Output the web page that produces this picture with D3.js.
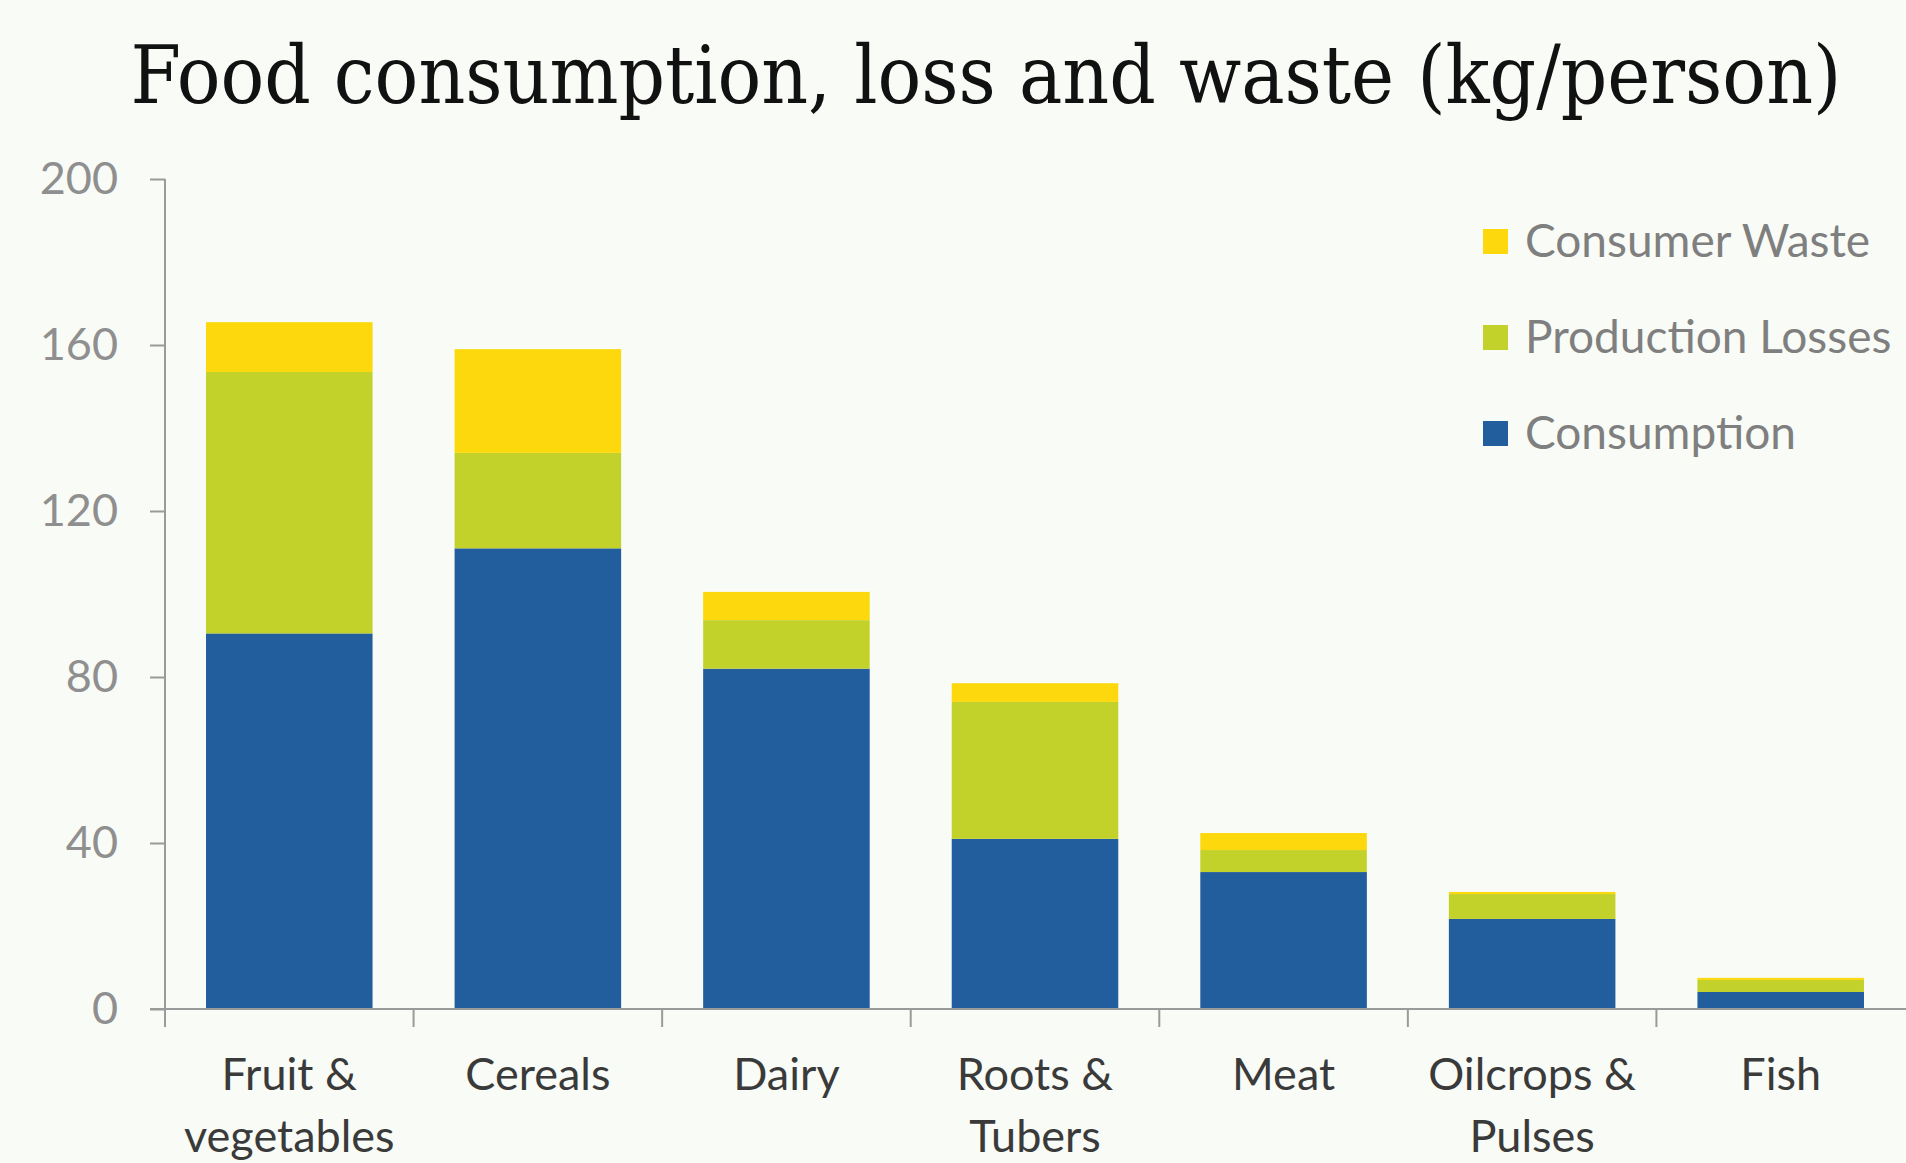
<!DOCTYPE html>
<html>
<head>
<meta charset="utf-8">
<script src="https://cdn.jsdelivr.net/npm/d3@7"></script>
<style>
  html, body { margin: 0; padding: 0; background: #f8fbf6; }
  svg { display: block; }
</style>
</head>
<body>
<div id="chart"></div>
<script>
// ------------------------------------------------------------
// Data (kg/person)
// ------------------------------------------------------------
const categories = ["Fruit & vegetables", "Cereals", "Dairy", "Roots & Tubers", "Meat", "Oilcrops & Pulses", "Fish"];
const categoryLines = [["Fruit &", "vegetables"], ["Cereals"], ["Dairy"], ["Roots &", "Tubers"], ["Meat"], ["Oilcrops &", "Pulses"], ["Fish"]];
const consumption = [90.5, 111, 82, 41, 33, 21.7, 4.1];
const productionLosses = [63, 23, 11.7, 33, 5.3, 6, 2.9];
const consumerWaste = [12, 25, 6.8, 4.5, 4.1, 0.5, 0.5];
const seriesNames = ["Consumption", "Production Losses", "Consumer Waste"];
const seriesColors = ["#225e9e", "#c3d22b", "#fcd80c"];
const yTicks = [0, 40, 80, 120, 160, 200];

// ------------------------------------------------------------
// Dimensions
// ------------------------------------------------------------
const width = 1906;
const height = 1163;
const plot = { left: 165, right: 1905, top: 179, bottom: 1009 };

const svg = d3.select("#chart").append("svg")
    .attr("width", width)
    .attr("height", height);

svg.append("rect")
    .attr("width", width)
    .attr("height", height)
    .attr("fill", "#f8fbf6");

// Title
const title = svg.append("text")
    .attr("x", 986)
    .attr("y", 103)
    .attr("text-anchor", "middle")
    .style("font-family", "'DejaVu Serif', 'Liberation Serif', serif")
    .style("font-stretch", "condensed")
    .style("font-size", "80px")
    .style("fill", "#111")
    .text("Food consumption, loss and waste (kg/person)");
// fit the title to the reference width
const tw = title.node().getComputedTextLength();
title.style("font-size", (80 * 1711 / tw) + "px");

// ------------------------------------------------------------
// Scales
// ------------------------------------------------------------
const x = d3.scaleBand()
    .domain(categories)
    .range([plot.left, plot.right])
    .paddingInner(0.33)
    .paddingOuter(0.165);

const xEdge = d3.scaleBand()
    .domain(categories)
    .range([plot.left, plot.right])
    .padding(0);

const y = d3.scaleLinear()
    .domain([0, 200])
    .range([plot.bottom, plot.top]);

// Stack data
const rows = categories.map((c, i) => ({
    category: c,
    "Consumption": consumption[i],
    "Production Losses": productionLosses[i],
    "Consumer Waste": consumerWaste[i]
}));
const stacked = d3.stack().keys(seriesNames)(rows);
const color = d3.scaleOrdinal().domain(seriesNames).range(seriesColors);

// ------------------------------------------------------------
// Bars
// ------------------------------------------------------------
svg.append("g")
    .selectAll("g")
    .data(stacked)
    .enter()
    .append("g")
    .attr("fill", d => color(d.key))
    .selectAll("rect")
    .data(d => d)
    .enter()
    .append("rect")
    .attr("x", d => x(d.data.category))
    .attr("width", x.bandwidth())
    .attr("y", d => y(d[1]))
    .attr("height", d => y(d[0]) - y(d[1]));

// ------------------------------------------------------------
// Axes
// ------------------------------------------------------------
const axisColor = "#9a9a9a";

// y axis
const yAxis = svg.append("g")
    .attr("transform", `translate(${plot.left},0)`)
    .call(d3.axisLeft(y).tickValues(yTicks).tickSize(15).tickPadding(32));
yAxis.select(".domain").remove();
yAxis.selectAll(".tick line").attr("stroke", axisColor).attr("stroke-width", 2);
yAxis.selectAll(".tick text")
    .style("font-family", "Lato, 'Open Sans', sans-serif")
    .style("font-size", "45px")
    .style("fill", "#8f8f8f");

svg.append("line")
    .attr("x1", plot.left).attr("x2", plot.left)
    .attr("y1", y(200)).attr("y2", plot.bottom + 18)
    .attr("stroke", axisColor).attr("stroke-width", 2);

// x axis baseline
svg.append("line")
    .attr("x1", plot.left - 15).attr("x2", width)
    .attr("y1", plot.bottom).attr("y2", plot.bottom)
    .attr("stroke", axisColor).attr("stroke-width", 2);

// category boundary ticks
svg.append("g")
    .selectAll("line")
    .data(categories.slice(1))
    .enter()
    .append("line")
    .attr("x1", d => xEdge(d)).attr("x2", d => xEdge(d))
    .attr("y1", plot.bottom).attr("y2", plot.bottom + 18)
    .attr("stroke", axisColor).attr("stroke-width", 2);

// category labels
const labels = svg.append("g")
    .selectAll("text")
    .data(categories)
    .enter()
    .append("text")
    .attr("text-anchor", "middle")
    .attr("x", d => x(d) + x.bandwidth() / 2)
    .attr("y", 1090)
    .style("font-family", "Lato, 'Open Sans', sans-serif")
    .style("font-size", "45px")
    .style("fill", "#3a3a3a");

labels.selectAll("tspan")
    .data((d, i) => categoryLines[i])
    .enter()
    .append("tspan")
    .attr("x", function() { return d3.select(this.parentNode).attr("x"); })
    .attr("dy", (d, i) => i === 0 ? 0 : 62)
    .text(d => d);

// ------------------------------------------------------------
// Legend
// ------------------------------------------------------------
const legendItems = seriesNames.slice().reverse();
const legend = svg.append("g")
    .selectAll("g")
    .data(legendItems)
    .enter()
    .append("g")
    .attr("transform", (d, i) => `translate(1483,${241 + i * 96})`);

legend.append("rect")
    .attr("x", 0)
    .attr("y", -12)
    .attr("width", 25)
    .attr("height", 25)
    .attr("fill", d => color(d));

legend.append("text")
    .attr("x", 42)
    .attr("dy", "0.35em")
    .style("font-family", "Lato, 'Open Sans', sans-serif")
    .style("font-size", "46px")
    .style("fill", "#7f7f7f")
    .text(d => d);
</script>
</body>
</html>
